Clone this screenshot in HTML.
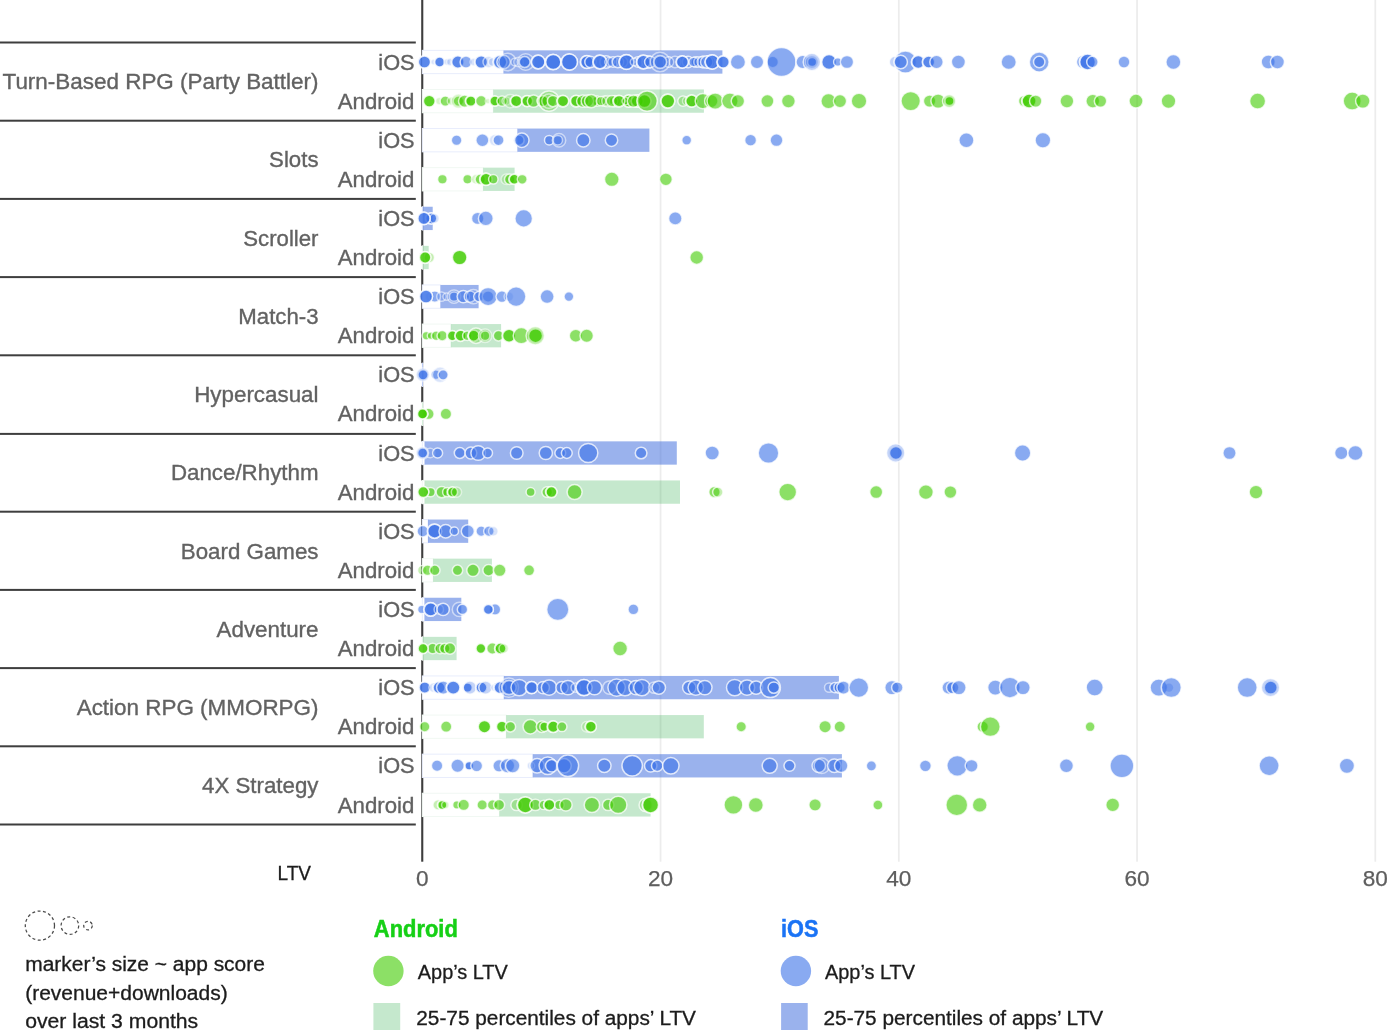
<!DOCTYPE html>
<html><head><meta charset="utf-8"><title>LTV by genre</title>
<style>html,body{margin:0;padding:0;background:#fff}body{width:1387px;height:1030px;position:relative;overflow:hidden}</style>
</head><body>
<svg width="1387" height="1030" viewBox="0 0 1387 1030" style="position:absolute;left:0;top:0;font-family:'Liberation Sans',Arial,sans-serif">
<rect width="1387" height="1030" fill="#fff"/>
<rect x="659.70" y="0" width="1.7" height="861.7" fill="#ececec"/>
<rect x="897.95" y="0" width="1.7" height="861.7" fill="#ececec"/>
<rect x="1136.20" y="0" width="1.7" height="861.7" fill="#ececec"/>
<rect x="1374.45" y="0" width="1.7" height="861.7" fill="#ececec"/>
<rect x="421.2" y="0" width="2.1" height="861.7" fill="#3e3e3e"/>
<rect x="0" y="41.50" width="415.8" height="2" fill="#3e3e3e"/>
<rect x="0" y="119.70" width="415.8" height="2" fill="#3e3e3e"/>
<rect x="0" y="197.90" width="415.8" height="2" fill="#3e3e3e"/>
<rect x="0" y="276.10" width="415.8" height="2" fill="#3e3e3e"/>
<rect x="0" y="354.30" width="415.8" height="2" fill="#3e3e3e"/>
<rect x="0" y="432.90" width="415.8" height="2" fill="#3e3e3e"/>
<rect x="0" y="510.70" width="415.8" height="2" fill="#3e3e3e"/>
<rect x="0" y="588.90" width="415.8" height="2" fill="#3e3e3e"/>
<rect x="0" y="667.10" width="415.8" height="2" fill="#3e3e3e"/>
<rect x="0" y="745.30" width="415.8" height="2" fill="#3e3e3e"/>
<rect x="0" y="823.50" width="415.8" height="2" fill="#3e3e3e"/>
<rect x="422.2" y="50.35" width="81.40" height="23.3" fill="#fff"/>
<rect x="422.3" y="50.35" width="81.30" height="23.3" fill="none" stroke="#e8edfc" stroke-width="1"/>
<rect x="503.6" y="50.35" width="218.8" height="23.3" fill="#3565dc" fill-opacity="0.5"/>
<rect x="422.2" y="89.45" width="71.10" height="23.3" fill="#fff"/>
<rect x="422.3" y="89.45" width="71.00" height="23.3" fill="none" stroke="#f1f8f3" stroke-width="1"/>
<rect x="493.3" y="89.45" width="210.6" height="23.3" fill="#30ad4c" fill-opacity="0.28"/>
<rect x="422.2" y="128.55" width="95.30" height="23.3" fill="#fff"/>
<rect x="422.3" y="128.55" width="95.20" height="23.3" fill="none" stroke="#e8edfc" stroke-width="1"/>
<rect x="517.5" y="128.55" width="131.9" height="23.3" fill="#3565dc" fill-opacity="0.5"/>
<rect x="422.2" y="167.65" width="61.00" height="23.3" fill="#fff"/>
<rect x="422.3" y="167.65" width="60.90" height="23.3" fill="none" stroke="#f1f8f3" stroke-width="1"/>
<rect x="483.2" y="167.65" width="31.4" height="23.3" fill="#30ad4c" fill-opacity="0.28"/>
<rect x="420.9" y="206.75" width="2.60" height="23.3" fill="#fff"/>
<rect x="422.3" y="206.75" width="0.50" height="23.3" fill="none" stroke="#e8edfc" stroke-width="1"/>
<rect x="422.8" y="206.75" width="9.9" height="23.3" fill="#3565dc" fill-opacity="0.5"/>
<rect x="420.9" y="245.85" width="2.60" height="23.3" fill="#fff"/>
<rect x="422.3" y="245.85" width="0.50" height="23.3" fill="none" stroke="#f1f8f3" stroke-width="1"/>
<rect x="422.8" y="245.85" width="5.9" height="23.3" fill="#30ad4c" fill-opacity="0.28"/>
<rect x="422.2" y="284.95" width="18.30" height="23.3" fill="#fff"/>
<rect x="422.3" y="284.95" width="18.20" height="23.3" fill="none" stroke="#e8edfc" stroke-width="1"/>
<rect x="440.5" y="284.95" width="38.1" height="23.3" fill="#3565dc" fill-opacity="0.5"/>
<rect x="422.2" y="324.05" width="28.70" height="23.3" fill="#fff"/>
<rect x="422.3" y="324.05" width="28.60" height="23.3" fill="none" stroke="#f1f8f3" stroke-width="1"/>
<rect x="450.9" y="324.05" width="50.2" height="23.3" fill="#30ad4c" fill-opacity="0.28"/>
<rect x="420.9" y="363.15" width="2.60" height="23.3" fill="#fff"/>
<rect x="422.3" y="363.15" width="0.50" height="23.3" fill="none" stroke="#e8edfc" stroke-width="1"/>
<rect x="422.3" y="363.15" width="0.5" height="23.3" fill="#3565dc" fill-opacity="0.5"/>
<rect x="420.9" y="402.25" width="2.60" height="23.3" fill="#fff"/>
<rect x="422.3" y="402.25" width="0.50" height="23.3" fill="none" stroke="#f1f8f3" stroke-width="1"/>
<rect x="422.3" y="402.25" width="0.5" height="23.3" fill="#30ad4c" fill-opacity="0.28"/>
<rect x="420.9" y="441.35" width="3.80" height="23.3" fill="#fff"/>
<rect x="422.3" y="441.35" width="2.40" height="23.3" fill="none" stroke="#e8edfc" stroke-width="1"/>
<rect x="424.7" y="441.35" width="252.1" height="23.3" fill="#3565dc" fill-opacity="0.5"/>
<rect x="420.9" y="480.45" width="3.80" height="23.3" fill="#fff"/>
<rect x="422.3" y="480.45" width="2.40" height="23.3" fill="none" stroke="#f1f8f3" stroke-width="1"/>
<rect x="424.7" y="480.45" width="255.3" height="23.3" fill="#30ad4c" fill-opacity="0.28"/>
<rect x="422.2" y="519.55" width="5.80" height="23.3" fill="#fff"/>
<rect x="422.3" y="519.55" width="5.70" height="23.3" fill="none" stroke="#e8edfc" stroke-width="1"/>
<rect x="428.0" y="519.55" width="40.2" height="23.3" fill="#3565dc" fill-opacity="0.5"/>
<rect x="422.2" y="558.65" width="11.00" height="23.3" fill="#fff"/>
<rect x="422.3" y="558.65" width="10.90" height="23.3" fill="none" stroke="#f1f8f3" stroke-width="1"/>
<rect x="433.2" y="558.65" width="58.7" height="23.3" fill="#30ad4c" fill-opacity="0.28"/>
<rect x="420.9" y="597.75" width="3.70" height="23.3" fill="#fff"/>
<rect x="422.3" y="597.75" width="2.30" height="23.3" fill="none" stroke="#e8edfc" stroke-width="1"/>
<rect x="424.6" y="597.75" width="36.7" height="23.3" fill="#3565dc" fill-opacity="0.5"/>
<rect x="420.9" y="636.85" width="2.60" height="23.3" fill="#fff"/>
<rect x="422.3" y="636.85" width="0.50" height="23.3" fill="none" stroke="#f1f8f3" stroke-width="1"/>
<rect x="422.8" y="636.85" width="33.8" height="23.3" fill="#30ad4c" fill-opacity="0.28"/>
<rect x="422.2" y="675.95" width="81.70" height="23.3" fill="#fff"/>
<rect x="422.3" y="675.95" width="81.60" height="23.3" fill="none" stroke="#e8edfc" stroke-width="1"/>
<rect x="503.9" y="675.95" width="335.0" height="23.3" fill="#3565dc" fill-opacity="0.5"/>
<rect x="422.2" y="715.05" width="84.00" height="23.3" fill="#fff"/>
<rect x="422.3" y="715.05" width="83.90" height="23.3" fill="none" stroke="#f1f8f3" stroke-width="1"/>
<rect x="506.2" y="715.05" width="197.6" height="23.3" fill="#30ad4c" fill-opacity="0.28"/>
<rect x="422.2" y="754.15" width="110.60" height="23.3" fill="#fff"/>
<rect x="422.3" y="754.15" width="110.50" height="23.3" fill="none" stroke="#e8edfc" stroke-width="1"/>
<rect x="532.8" y="754.15" width="309.1" height="23.3" fill="#3565dc" fill-opacity="0.5"/>
<rect x="422.2" y="793.25" width="77.20" height="23.3" fill="#fff"/>
<rect x="422.3" y="793.25" width="77.10" height="23.3" fill="none" stroke="#f1f8f3" stroke-width="1"/>
<rect x="499.4" y="793.25" width="151.2" height="23.3" fill="#30ad4c" fill-opacity="0.28"/>
<g fill="#3a72e8" fill-opacity="0.6" stroke="#fff" stroke-opacity="0.75" stroke-width="1.5">
<circle cx="606.0" cy="62.0" r="6.2" fill-opacity="0.3"/>
<circle cx="613.0" cy="62.0" r="5.2"/>
<circle cx="622.0" cy="62.0" r="5.7" fill-opacity="0.3"/>
<circle cx="638.0" cy="62.0" r="5.2" fill-opacity="0.3"/>
<circle cx="648.0" cy="62.0" r="6.2" fill-opacity="0.3"/>
<circle cx="668.5" cy="62.0" r="5.2" fill-opacity="0.3"/>
<circle cx="688.0" cy="62.0" r="5.7" fill-opacity="0.3"/>
<circle cx="696.0" cy="62.0" r="5.2"/>
<circle cx="703.0" cy="62.0" r="5.7"/>
<circle cx="709.0" cy="62.0" r="6.2"/>
<circle cx="424.2" cy="62.0" r="6.3"/>
<circle cx="424.5" cy="62.0" r="6.1"/>
<circle cx="433.6" cy="62.0" r="2.7" fill-opacity="0.2" stroke-opacity="0.55"/>
<circle cx="439.4" cy="62.0" r="5.2"/>
<circle cx="439.7" cy="62.0" r="5.0"/>
<circle cx="447.2" cy="62.0" r="3.2" fill-opacity="0.2" stroke-opacity="0.55"/>
<circle cx="450.4" cy="62.0" r="3.7" fill-opacity="0.2" stroke-opacity="0.55"/>
<circle cx="457.6" cy="62.0" r="6.4"/>
<circle cx="457.9" cy="62.0" r="6.2"/>
<circle cx="466.0" cy="62.0" r="5.9"/>
<circle cx="473.8" cy="62.0" r="3.7" fill-opacity="0.2" stroke-opacity="0.55"/>
<circle cx="481.0" cy="62.0" r="6.5"/>
<circle cx="481.3" cy="62.0" r="6.3"/>
<circle cx="488.7" cy="62.0" r="5.7" fill-opacity="0.2" stroke-opacity="0.55"/>
<circle cx="492.6" cy="62.0" r="4.2" fill-opacity="0.2" stroke-opacity="0.55"/>
<circle cx="499.8" cy="62.0" r="6.9"/>
<circle cx="500.1" cy="62.0" r="6.7"/>
<circle cx="503.6" cy="62.0" r="6.7"/>
<circle cx="507.5" cy="62.0" r="8.7" fill-opacity="0.2" stroke-opacity="0.55"/>
<circle cx="514.7" cy="62.0" r="3.7" fill-opacity="0.2" stroke-opacity="0.55"/>
<circle cx="518.6" cy="62.0" r="4.7" fill-opacity="0.2" stroke-opacity="0.55"/>
<circle cx="524.4" cy="62.0" r="5.6"/>
<circle cx="524.7" cy="62.0" r="5.4"/>
<circle cx="525.7" cy="62.0" r="8.2" fill-opacity="0.2" stroke-opacity="0.55"/>
<circle cx="538.0" cy="62.0" r="6.9"/>
<circle cx="538.3" cy="62.0" r="6.7"/>
<circle cx="553.0" cy="62.0" r="7.8"/>
<circle cx="553.3" cy="62.0" r="7.6"/>
<circle cx="569.2" cy="62.0" r="8.2"/>
<circle cx="569.5" cy="62.0" r="8.0"/>
<circle cx="586.7" cy="62.0" r="6.5"/>
<circle cx="587.0" cy="62.0" r="6.3"/>
<circle cx="590.5" cy="62.0" r="5.7"/>
<circle cx="599.7" cy="62.0" r="6.9"/>
<circle cx="600.0" cy="62.0" r="6.7"/>
<circle cx="609.5" cy="62.0" r="4.7" fill-opacity="0.2" stroke-opacity="0.55"/>
<circle cx="617.9" cy="62.0" r="5.7"/>
<circle cx="626.3" cy="62.0" r="7.5"/>
<circle cx="626.6" cy="62.0" r="7.3"/>
<circle cx="634.0" cy="62.0" r="3.7" fill-opacity="0.2" stroke-opacity="0.55"/>
<circle cx="643.2" cy="62.0" r="6.9"/>
<circle cx="643.5" cy="62.0" r="6.7"/>
<circle cx="650.3" cy="62.0" r="5.7"/>
<circle cx="660.0" cy="62.0" r="6.5"/>
<circle cx="660.3" cy="62.0" r="6.3"/>
<circle cx="660.0" cy="62.0" r="9.7" fill-opacity="0.2" stroke-opacity="0.55"/>
<circle cx="675.0" cy="62.0" r="5.7" fill-opacity="0.2" stroke-opacity="0.55"/>
<circle cx="682.1" cy="62.0" r="6.2"/>
<circle cx="682.4" cy="62.0" r="6.0"/>
<circle cx="693.8" cy="62.0" r="4.7"/>
<circle cx="699.0" cy="62.0" r="5.2" fill-opacity="0.2" stroke-opacity="0.55"/>
<circle cx="702.9" cy="62.0" r="5.7" fill-opacity="0.2" stroke-opacity="0.55"/>
<circle cx="706.8" cy="62.0" r="6.2"/>
<circle cx="712.0" cy="62.0" r="7.2"/>
<circle cx="712.3" cy="62.0" r="7.0"/>
<circle cx="723.0" cy="62.0" r="6.2"/>
<circle cx="723.3" cy="62.0" r="6.0"/>
<circle cx="737.9" cy="62.0" r="7.6"/>
<circle cx="757.0" cy="62.0" r="6.7"/>
<circle cx="772.7" cy="62.0" r="5.7"/>
<circle cx="781.5" cy="62.0" r="14.5"/>
<circle cx="802.7" cy="62.0" r="6.7"/>
<circle cx="811.9" cy="62.0" r="4.7"/>
<circle cx="812.2" cy="62.0" r="4.5"/>
<circle cx="811.9" cy="62.0" r="6.7" fill-opacity="0.3"/>
<circle cx="811.9" cy="62.0" r="8.7" fill-opacity="0.3"/>
<circle cx="828.8" cy="62.0" r="7.6"/>
<circle cx="829.1" cy="62.0" r="7.4"/>
<circle cx="837.8" cy="62.0" r="4.2"/>
<circle cx="847.0" cy="62.0" r="6.6"/>
<circle cx="895.0" cy="62.0" r="5.7" fill-opacity="0.3"/>
<circle cx="905.4" cy="62.0" r="11.1"/>
<circle cx="900.7" cy="62.0" r="6.7"/>
<circle cx="918.0" cy="62.0" r="6.7"/>
<circle cx="918.3" cy="62.0" r="6.5"/>
<circle cx="928.4" cy="62.0" r="6.2"/>
<circle cx="928.7" cy="62.0" r="6.0"/>
<circle cx="936.5" cy="62.0" r="6.7"/>
<circle cx="958.4" cy="62.0" r="7.0"/>
<circle cx="1008.7" cy="62.0" r="7.6"/>
<circle cx="1039.2" cy="62.0" r="9.9"/>
<circle cx="1039.2" cy="62.0" r="5.7"/>
<circle cx="1083.2" cy="62.0" r="6.7"/>
<circle cx="1087.3" cy="62.0" r="8.1"/>
<circle cx="1087.6" cy="62.0" r="7.9"/>
<circle cx="1092.4" cy="62.0" r="5.7"/>
<circle cx="1124.0" cy="62.0" r="5.9"/>
<circle cx="1173.4" cy="62.0" r="7.5"/>
<circle cx="1268.2" cy="62.0" r="7.0"/>
<circle cx="1277.4" cy="62.0" r="7.0"/>
<circle cx="456.6" cy="140.2" r="5.3"/>
<circle cx="482.4" cy="140.2" r="6.5"/>
<circle cx="495.0" cy="140.2" r="5.7" fill-opacity="0.2" stroke-opacity="0.55"/>
<circle cx="498.5" cy="140.2" r="5.5"/>
<circle cx="518.9" cy="140.2" r="5.2"/>
<circle cx="521.8" cy="140.2" r="7.2"/>
<circle cx="549.2" cy="140.2" r="4.7"/>
<circle cx="557.8" cy="140.2" r="4.7"/>
<circle cx="559.0" cy="140.2" r="6.7" fill-opacity="0.2" stroke-opacity="0.55"/>
<circle cx="583.3" cy="140.2" r="6.7"/>
<circle cx="611.5" cy="140.2" r="6.2"/>
<circle cx="686.7" cy="140.2" r="4.9"/>
<circle cx="750.6" cy="140.2" r="5.9"/>
<circle cx="776.5" cy="140.2" r="6.4"/>
<circle cx="966.4" cy="140.2" r="7.5"/>
<circle cx="1042.9" cy="140.2" r="7.8"/>
<circle cx="431.0" cy="218.4" r="5.7"/>
<circle cx="431.3" cy="218.4" r="5.5"/>
<circle cx="434.4" cy="218.4" r="4.7" fill-opacity="0.2" stroke-opacity="0.55"/>
<circle cx="423.7" cy="218.4" r="6.3"/>
<circle cx="424.0" cy="218.4" r="6.1"/>
<circle cx="477.7" cy="218.4" r="6.2"/>
<circle cx="485.8" cy="218.4" r="7.4"/>
<circle cx="523.7" cy="218.4" r="8.8"/>
<circle cx="675.3" cy="218.4" r="6.7"/>
<circle cx="430.1" cy="296.6" r="4.7" fill-opacity="0.2" stroke-opacity="0.55"/>
<circle cx="434.8" cy="296.6" r="5.7"/>
<circle cx="425.8" cy="296.6" r="6.7"/>
<circle cx="426.1" cy="296.6" r="6.5"/>
<circle cx="441.4" cy="296.6" r="4.7" fill-opacity="0.2" stroke-opacity="0.55"/>
<circle cx="446.6" cy="296.6" r="3.7" fill-opacity="0.2" stroke-opacity="0.55"/>
<circle cx="454.0" cy="296.6" r="4.7"/>
<circle cx="454.0" cy="296.6" r="6.7" fill-opacity="0.2" stroke-opacity="0.55"/>
<circle cx="463.3" cy="296.6" r="6.2"/>
<circle cx="469.9" cy="296.6" r="5.7"/>
<circle cx="473.4" cy="296.6" r="7.2" fill-opacity="0.2" stroke-opacity="0.55"/>
<circle cx="478.9" cy="296.6" r="5.2"/>
<circle cx="488.1" cy="296.6" r="5.7"/>
<circle cx="488.1" cy="296.6" r="9.2"/>
<circle cx="501.9" cy="296.6" r="5.9"/>
<circle cx="508.8" cy="296.6" r="4.7" fill-opacity="0.2" stroke-opacity="0.55"/>
<circle cx="516.1" cy="296.6" r="9.8"/>
<circle cx="547.1" cy="296.6" r="7.0"/>
<circle cx="568.9" cy="296.6" r="4.9"/>
<circle cx="435.7" cy="374.8" r="4.7"/>
<circle cx="440.1" cy="374.8" r="7.7" fill-opacity="0.2" stroke-opacity="0.55"/>
<circle cx="443.1" cy="374.8" r="5.1"/>
<circle cx="422.8" cy="374.8" r="5.3"/>
<circle cx="423.1" cy="374.8" r="5.1"/>
<circle cx="422.8" cy="374.8" r="6.7" fill-opacity="0.2" stroke-opacity="0.55"/>
<circle cx="430.1" cy="453.0" r="4.7" fill-opacity="0.2" stroke-opacity="0.55"/>
<circle cx="437.6" cy="453.0" r="5.0"/>
<circle cx="459.8" cy="453.0" r="5.5"/>
<circle cx="470.9" cy="453.0" r="5.9"/>
<circle cx="478.2" cy="453.0" r="7.3"/>
<circle cx="487.6" cy="453.0" r="4.9"/>
<circle cx="516.7" cy="453.0" r="6.3"/>
<circle cx="545.8" cy="453.0" r="6.6"/>
<circle cx="560.3" cy="453.0" r="5.4"/>
<circle cx="566.8" cy="453.0" r="5.4"/>
<circle cx="588.2" cy="453.0" r="9.6"/>
<circle cx="641.1" cy="453.0" r="5.8"/>
<circle cx="712.2" cy="453.0" r="7.1"/>
<circle cx="768.5" cy="453.0" r="10.3"/>
<circle cx="895.7" cy="453.0" r="6.7"/>
<circle cx="896.0" cy="453.0" r="6.5"/>
<circle cx="895.7" cy="453.0" r="9.2" fill-opacity="0.3"/>
<circle cx="1022.6" cy="453.0" r="8.2"/>
<circle cx="1229.5" cy="453.0" r="6.6"/>
<circle cx="1341.3" cy="453.0" r="6.7"/>
<circle cx="1355.4" cy="453.0" r="7.6"/>
<circle cx="422.4" cy="453.0" r="5.2"/>
<circle cx="422.7" cy="453.0" r="5.0"/>
<circle cx="422.4" cy="453.0" r="6.2" fill-opacity="0.2" stroke-opacity="0.55"/>
<circle cx="422.8" cy="531.2" r="5.7"/>
<circle cx="434.4" cy="531.2" r="7.2"/>
<circle cx="434.7" cy="531.2" r="7.0"/>
<circle cx="445.7" cy="531.2" r="6.7"/>
<circle cx="454.3" cy="531.2" r="4.2"/>
<circle cx="467.8" cy="531.2" r="6.5"/>
<circle cx="481.2" cy="531.2" r="5.2"/>
<circle cx="488.9" cy="531.2" r="5.2"/>
<circle cx="493.3" cy="531.2" r="4.7" fill-opacity="0.2" stroke-opacity="0.55"/>
<circle cx="421.8" cy="609.4" r="4.2"/>
<circle cx="430.5" cy="609.4" r="6.9"/>
<circle cx="430.8" cy="609.4" r="6.7"/>
<circle cx="438.8" cy="609.4" r="4.7" fill-opacity="0.2" stroke-opacity="0.55"/>
<circle cx="443.1" cy="609.4" r="6.2"/>
<circle cx="459.5" cy="609.4" r="7.2" fill-opacity="0.2" stroke-opacity="0.55"/>
<circle cx="462.5" cy="609.4" r="5.2"/>
<circle cx="495.0" cy="609.4" r="5.7"/>
<circle cx="488.1" cy="609.4" r="5.2"/>
<circle cx="488.4" cy="609.4" r="5.0"/>
<circle cx="557.8" cy="609.4" r="11.1"/>
<circle cx="633.4" cy="609.4" r="5.4"/>
<circle cx="424.5" cy="687.6" r="5.9"/>
<circle cx="424.8" cy="687.6" r="5.7"/>
<circle cx="433.6" cy="687.6" r="4.7" fill-opacity="0.2" stroke-opacity="0.55"/>
<circle cx="438.8" cy="687.6" r="6.2"/>
<circle cx="439.1" cy="687.6" r="6.0"/>
<circle cx="443.3" cy="687.6" r="6.7"/>
<circle cx="453.0" cy="687.6" r="6.9"/>
<circle cx="453.3" cy="687.6" r="6.7"/>
<circle cx="467.3" cy="687.6" r="4.9"/>
<circle cx="467.6" cy="687.6" r="4.7"/>
<circle cx="469.9" cy="687.6" r="6.7" fill-opacity="0.3"/>
<circle cx="481.2" cy="687.6" r="5.7"/>
<circle cx="481.5" cy="687.6" r="5.5"/>
<circle cx="485.5" cy="687.6" r="6.7" fill-opacity="0.3"/>
<circle cx="494.6" cy="687.6" r="3.7" fill-opacity="0.2" stroke-opacity="0.55"/>
<circle cx="499.8" cy="687.6" r="6.2"/>
<circle cx="500.1" cy="687.6" r="6.0"/>
<circle cx="508.8" cy="687.6" r="7.2"/>
<circle cx="509.1" cy="687.6" r="7.0"/>
<circle cx="508.8" cy="687.6" r="9.7" fill-opacity="0.2" stroke-opacity="0.55"/>
<circle cx="519.2" cy="687.6" r="8.2"/>
<circle cx="531.5" cy="687.6" r="6.2"/>
<circle cx="531.8" cy="687.6" r="6.0"/>
<circle cx="543.2" cy="687.6" r="6.2"/>
<circle cx="549.1" cy="687.6" r="7.7"/>
<circle cx="562.0" cy="687.6" r="6.2"/>
<circle cx="567.9" cy="687.6" r="7.2"/>
<circle cx="575.7" cy="687.6" r="4.7" fill-opacity="0.2" stroke-opacity="0.55"/>
<circle cx="583.8" cy="687.6" r="8.2"/>
<circle cx="584.1" cy="687.6" r="8.0"/>
<circle cx="594.5" cy="687.6" r="7.2"/>
<circle cx="609.5" cy="687.6" r="6.7" fill-opacity="0.2" stroke-opacity="0.55"/>
<circle cx="616.6" cy="687.6" r="8.7"/>
<circle cx="625.0" cy="687.6" r="8.2"/>
<circle cx="636.1" cy="687.6" r="7.2"/>
<circle cx="641.9" cy="687.6" r="8.2"/>
<circle cx="654.2" cy="687.6" r="5.7" fill-opacity="0.2" stroke-opacity="0.55"/>
<circle cx="658.8" cy="687.6" r="6.7"/>
<circle cx="689.3" cy="687.6" r="6.7"/>
<circle cx="695.8" cy="687.6" r="7.7"/>
<circle cx="704.8" cy="687.6" r="7.2"/>
<circle cx="734.7" cy="687.6" r="8.2"/>
<circle cx="747.0" cy="687.6" r="7.7"/>
<circle cx="756.1" cy="687.6" r="6.7"/>
<circle cx="770.4" cy="687.6" r="10.0"/>
<circle cx="773.8" cy="687.6" r="5.7"/>
<circle cx="829.2" cy="687.6" r="4.7" fill-opacity="0.2" stroke-opacity="0.55"/>
<circle cx="835.0" cy="687.6" r="5.2"/>
<circle cx="839.6" cy="687.6" r="5.7"/>
<circle cx="843.5" cy="687.6" r="6.7"/>
<circle cx="858.8" cy="687.6" r="9.9"/>
<circle cx="892.0" cy="687.6" r="7.2"/>
<circle cx="897.3" cy="687.6" r="5.7"/>
<circle cx="948.7" cy="687.6" r="6.7"/>
<circle cx="952.7" cy="687.6" r="6.2"/>
<circle cx="958.9" cy="687.6" r="7.2"/>
<circle cx="995.3" cy="687.6" r="7.6"/>
<circle cx="1009.9" cy="687.6" r="10.3"/>
<circle cx="1023.0" cy="687.6" r="7.2"/>
<circle cx="1094.7" cy="687.6" r="8.5"/>
<circle cx="1158.8" cy="687.6" r="8.7"/>
<circle cx="1171.3" cy="687.6" r="10.0"/>
<circle cx="1169.0" cy="687.6" r="4.2" fill-opacity="0.3" stroke="none"/>
<circle cx="1247.2" cy="687.6" r="10.0"/>
<circle cx="1270.5" cy="687.6" r="6.7"/>
<circle cx="1270.8" cy="687.6" r="6.5"/>
<circle cx="1270.5" cy="687.6" r="9.2" fill-opacity="0.3"/>
<circle cx="437.1" cy="765.8" r="5.7"/>
<circle cx="457.6" cy="765.8" r="6.7"/>
<circle cx="469.0" cy="765.8" r="4.5"/>
<circle cx="469.3" cy="765.8" r="4.3"/>
<circle cx="476.7" cy="765.8" r="5.9"/>
<circle cx="499.1" cy="765.8" r="6.2"/>
<circle cx="507.5" cy="765.8" r="7.2"/>
<circle cx="512.7" cy="765.8" r="7.2"/>
<circle cx="530.9" cy="765.8" r="3.7" fill-opacity="0.2" stroke-opacity="0.55"/>
<circle cx="537.1" cy="765.8" r="7.2"/>
<circle cx="547.8" cy="765.8" r="8.7"/>
<circle cx="551.7" cy="765.8" r="6.2"/>
<circle cx="564.0" cy="765.8" r="7.2"/>
<circle cx="567.9" cy="765.8" r="10.7"/>
<circle cx="604.3" cy="765.8" r="6.7"/>
<circle cx="632.2" cy="765.8" r="10.2"/>
<circle cx="650.7" cy="765.8" r="6.2"/>
<circle cx="657.2" cy="765.8" r="5.7"/>
<circle cx="670.8" cy="765.8" r="8.2"/>
<circle cx="769.7" cy="765.8" r="7.5"/>
<circle cx="789.5" cy="765.8" r="5.5"/>
<circle cx="818.8" cy="765.8" r="6.7"/>
<circle cx="821.8" cy="765.8" r="7.7" fill-opacity="0.2" stroke-opacity="0.55"/>
<circle cx="834.3" cy="765.8" r="6.7"/>
<circle cx="841.2" cy="765.8" r="6.7"/>
<circle cx="871.4" cy="765.8" r="5.1"/>
<circle cx="925.4" cy="765.8" r="5.9"/>
<circle cx="957.3" cy="765.8" r="10.4"/>
<circle cx="971.6" cy="765.8" r="6.4"/>
<circle cx="1066.4" cy="765.8" r="7.0"/>
<circle cx="1121.9" cy="765.8" r="11.9"/>
<circle cx="1269.1" cy="765.8" r="10.0"/>
<circle cx="1346.9" cy="765.8" r="7.6"/>
</g>
<g fill="#3fcb00" fill-opacity="0.6" stroke="#fff" stroke-opacity="0.75" stroke-width="1.5">
<circle cx="597.0" cy="101.1" r="5.2"/>
<circle cx="604.5" cy="101.1" r="5.2" fill-opacity="0.3"/>
<circle cx="615.0" cy="101.1" r="5.7"/>
<circle cx="628.5" cy="101.1" r="6.2"/>
<circle cx="628.8" cy="101.1" r="6.0"/>
<circle cx="637.0" cy="101.1" r="6.2"/>
<circle cx="637.3" cy="101.1" r="6.0"/>
<circle cx="683.0" cy="101.1" r="5.2" fill-opacity="0.3"/>
<circle cx="429.0" cy="101.1" r="6.1"/>
<circle cx="429.3" cy="101.1" r="5.9"/>
<circle cx="439.4" cy="101.1" r="3.7" fill-opacity="0.2" stroke-opacity="0.55"/>
<circle cx="445.3" cy="101.1" r="5.2"/>
<circle cx="451.5" cy="101.1" r="4.2" fill-opacity="0.2" stroke-opacity="0.55"/>
<circle cx="458.5" cy="101.1" r="5.2"/>
<circle cx="458.5" cy="101.1" r="7.2" fill-opacity="0.2" stroke-opacity="0.55"/>
<circle cx="464.7" cy="101.1" r="6.2"/>
<circle cx="470.6" cy="101.1" r="5.4"/>
<circle cx="470.9" cy="101.1" r="5.2"/>
<circle cx="481.2" cy="101.1" r="5.6"/>
<circle cx="488.0" cy="101.1" r="2.7" fill-opacity="0.2" stroke-opacity="0.55"/>
<circle cx="494.6" cy="101.1" r="5.2"/>
<circle cx="494.9" cy="101.1" r="5.0"/>
<circle cx="502.1" cy="101.1" r="5.2"/>
<circle cx="506.2" cy="101.1" r="4.2" fill-opacity="0.2" stroke-opacity="0.55"/>
<circle cx="510.4" cy="101.1" r="6.7" fill-opacity="0.2" stroke-opacity="0.55"/>
<circle cx="516.0" cy="101.1" r="5.9"/>
<circle cx="516.3" cy="101.1" r="5.7"/>
<circle cx="527.0" cy="101.1" r="5.6"/>
<circle cx="527.3" cy="101.1" r="5.4"/>
<circle cx="533.5" cy="101.1" r="6.2"/>
<circle cx="542.6" cy="101.1" r="5.6"/>
<circle cx="542.9" cy="101.1" r="5.4"/>
<circle cx="549.0" cy="101.1" r="10.2" fill-opacity="0.3"/>
<circle cx="549.0" cy="101.1" r="7.2" fill-opacity="0.2" stroke-opacity="0.55"/>
<circle cx="553.0" cy="101.1" r="5.7"/>
<circle cx="562.7" cy="101.1" r="5.9"/>
<circle cx="563.0" cy="101.1" r="5.7"/>
<circle cx="576.0" cy="101.1" r="5.9"/>
<circle cx="576.3" cy="101.1" r="5.7"/>
<circle cx="582.8" cy="101.1" r="6.2"/>
<circle cx="587.3" cy="101.1" r="6.2"/>
<circle cx="591.2" cy="101.1" r="6.7"/>
<circle cx="601.0" cy="101.1" r="4.7"/>
<circle cx="607.5" cy="101.1" r="5.7" fill-opacity="0.2" stroke-opacity="0.55"/>
<circle cx="612.0" cy="101.1" r="5.7"/>
<circle cx="618.8" cy="101.1" r="5.9"/>
<circle cx="619.1" cy="101.1" r="5.7"/>
<circle cx="625.7" cy="101.1" r="3.7" fill-opacity="0.2" stroke-opacity="0.55"/>
<circle cx="633.5" cy="101.1" r="6.2"/>
<circle cx="644.2" cy="101.1" r="6.7"/>
<circle cx="644.5" cy="101.1" r="6.5"/>
<circle cx="647.1" cy="101.1" r="10.2"/>
<circle cx="667.6" cy="101.1" r="7.1"/>
<circle cx="667.9" cy="101.1" r="6.9"/>
<circle cx="686.7" cy="101.1" r="4.2" fill-opacity="0.2" stroke-opacity="0.55"/>
<circle cx="691.5" cy="101.1" r="6.2"/>
<circle cx="691.8" cy="101.1" r="6.0"/>
<circle cx="702.9" cy="101.1" r="7.7"/>
<circle cx="711.3" cy="101.1" r="6.7"/>
<circle cx="715.2" cy="101.1" r="8.2"/>
<circle cx="729.9" cy="101.1" r="8.2"/>
<circle cx="737.9" cy="101.1" r="6.7"/>
<circle cx="767.4" cy="101.1" r="6.5"/>
<circle cx="788.4" cy="101.1" r="6.9"/>
<circle cx="828.5" cy="101.1" r="7.6"/>
<circle cx="840.0" cy="101.1" r="6.6"/>
<circle cx="859.0" cy="101.1" r="7.8"/>
<circle cx="910.7" cy="101.1" r="9.7"/>
<circle cx="929.6" cy="101.1" r="6.2"/>
<circle cx="938.1" cy="101.1" r="7.2"/>
<circle cx="949.2" cy="101.1" r="4.7"/>
<circle cx="949.5" cy="101.1" r="4.5"/>
<circle cx="949.2" cy="101.1" r="6.7" fill-opacity="0.3"/>
<circle cx="1024.2" cy="101.1" r="5.7"/>
<circle cx="1028.8" cy="101.1" r="7.2"/>
<circle cx="1029.1" cy="101.1" r="7.0"/>
<circle cx="1035.7" cy="101.1" r="6.2"/>
<circle cx="1066.9" cy="101.1" r="6.9"/>
<circle cx="1092.8" cy="101.1" r="6.9"/>
<circle cx="1100.5" cy="101.1" r="6.2"/>
<circle cx="1136.0" cy="101.1" r="7.0"/>
<circle cx="1168.5" cy="101.1" r="7.3"/>
<circle cx="1257.6" cy="101.1" r="8.0"/>
<circle cx="1352.2" cy="101.1" r="9.0"/>
<circle cx="1362.8" cy="101.1" r="7.2"/>
<circle cx="442.4" cy="179.3" r="4.8"/>
<circle cx="467.5" cy="179.3" r="4.7"/>
<circle cx="476.0" cy="179.3" r="4.7" fill-opacity="0.2" stroke-opacity="0.55"/>
<circle cx="480.3" cy="179.3" r="5.2"/>
<circle cx="485.8" cy="179.3" r="6.2"/>
<circle cx="486.1" cy="179.3" r="6.0"/>
<circle cx="493.3" cy="179.3" r="4.7"/>
<circle cx="506.3" cy="179.3" r="5.2" fill-opacity="0.2" stroke-opacity="0.55"/>
<circle cx="509.7" cy="179.3" r="5.2"/>
<circle cx="514.0" cy="179.3" r="5.2"/>
<circle cx="514.3" cy="179.3" r="5.0"/>
<circle cx="522.2" cy="179.3" r="4.9"/>
<circle cx="611.8" cy="179.3" r="7.3"/>
<circle cx="665.9" cy="179.3" r="6.4"/>
<circle cx="429.2" cy="257.5" r="5.3" fill-opacity="0.3"/>
<circle cx="424.9" cy="257.5" r="5.9"/>
<circle cx="425.2" cy="257.5" r="5.7"/>
<circle cx="459.4" cy="257.5" r="7.5"/>
<circle cx="459.7" cy="257.5" r="7.3"/>
<circle cx="696.7" cy="257.5" r="6.9"/>
<circle cx="426.3" cy="335.7" r="4.2"/>
<circle cx="431.0" cy="335.7" r="3.7"/>
<circle cx="436.2" cy="335.7" r="4.7"/>
<circle cx="442.2" cy="335.7" r="5.2"/>
<circle cx="452.1" cy="335.7" r="5.2"/>
<circle cx="452.4" cy="335.7" r="5.0"/>
<circle cx="460.4" cy="335.7" r="5.7"/>
<circle cx="460.7" cy="335.7" r="5.5"/>
<circle cx="467.3" cy="335.7" r="4.7"/>
<circle cx="473.4" cy="335.7" r="5.7"/>
<circle cx="473.7" cy="335.7" r="5.5"/>
<circle cx="476.0" cy="335.7" r="7.7" fill-opacity="0.3"/>
<circle cx="485.1" cy="335.7" r="4.7"/>
<circle cx="485.1" cy="335.7" r="6.7" fill-opacity="0.2" stroke-opacity="0.55"/>
<circle cx="498.5" cy="335.7" r="5.2"/>
<circle cx="508.8" cy="335.7" r="6.7"/>
<circle cx="509.1" cy="335.7" r="6.5"/>
<circle cx="521.3" cy="335.7" r="8.1"/>
<circle cx="535.3" cy="335.7" r="7.2"/>
<circle cx="535.6" cy="335.7" r="7.0"/>
<circle cx="535.3" cy="335.7" r="9.2" fill-opacity="0.3"/>
<circle cx="575.8" cy="335.7" r="6.5"/>
<circle cx="586.7" cy="335.7" r="6.7"/>
<circle cx="428.4" cy="413.9" r="5.7"/>
<circle cx="422.5" cy="413.9" r="5.3"/>
<circle cx="422.8" cy="413.9" r="5.1"/>
<circle cx="422.5" cy="413.9" r="5.1"/>
<circle cx="445.9" cy="413.9" r="5.7"/>
<circle cx="430.5" cy="492.1" r="4.7"/>
<circle cx="441.8" cy="492.1" r="5.7"/>
<circle cx="447.3" cy="492.1" r="4.7"/>
<circle cx="452.3" cy="492.1" r="5.2"/>
<circle cx="452.6" cy="492.1" r="5.0"/>
<circle cx="456.4" cy="492.1" r="5.2" fill-opacity="0.2" stroke-opacity="0.55"/>
<circle cx="530.6" cy="492.1" r="4.5"/>
<circle cx="547.2" cy="492.1" r="5.3"/>
<circle cx="551.2" cy="492.1" r="5.7"/>
<circle cx="551.5" cy="492.1" r="5.5"/>
<circle cx="574.6" cy="492.1" r="7.5"/>
<circle cx="714.5" cy="492.1" r="5.7"/>
<circle cx="717.8" cy="492.1" r="5.2" fill-opacity="0.3"/>
<circle cx="787.7" cy="492.1" r="8.9"/>
<circle cx="876.2" cy="492.1" r="6.5"/>
<circle cx="925.9" cy="492.1" r="7.4"/>
<circle cx="950.4" cy="492.1" r="6.4"/>
<circle cx="1256.0" cy="492.1" r="6.9"/>
<circle cx="423.0" cy="492.1" r="5.7"/>
<circle cx="423.3" cy="492.1" r="5.5"/>
<circle cx="422.3" cy="570.3" r="4.7" fill-opacity="0.3"/>
<circle cx="427.5" cy="570.3" r="5.2"/>
<circle cx="434.8" cy="570.3" r="5.2"/>
<circle cx="457.5" cy="570.3" r="5.2"/>
<circle cx="473.0" cy="570.3" r="6.2"/>
<circle cx="488.6" cy="570.3" r="5.7"/>
<circle cx="499.7" cy="570.3" r="6.3"/>
<circle cx="529.1" cy="570.3" r="5.5"/>
<circle cx="432.7" cy="648.5" r="5.2"/>
<circle cx="440.1" cy="648.5" r="5.2"/>
<circle cx="444.8" cy="648.5" r="5.2"/>
<circle cx="450.0" cy="648.5" r="5.7"/>
<circle cx="480.6" cy="648.5" r="5.1"/>
<circle cx="480.9" cy="648.5" r="4.9"/>
<circle cx="492.4" cy="648.5" r="5.7"/>
<circle cx="500.2" cy="648.5" r="5.7"/>
<circle cx="500.5" cy="648.5" r="5.5"/>
<circle cx="503.7" cy="648.5" r="4.7" fill-opacity="0.2" stroke-opacity="0.55"/>
<circle cx="620.1" cy="648.5" r="7.4"/>
<circle cx="422.8" cy="648.5" r="5.2"/>
<circle cx="423.1" cy="648.5" r="5.0"/>
<circle cx="424.7" cy="726.7" r="5.2"/>
<circle cx="446.2" cy="726.7" r="5.6"/>
<circle cx="484.2" cy="726.7" r="6.4"/>
<circle cx="484.5" cy="726.7" r="6.2"/>
<circle cx="501.7" cy="726.7" r="5.7"/>
<circle cx="502.0" cy="726.7" r="5.5"/>
<circle cx="510.4" cy="726.7" r="5.2"/>
<circle cx="530.3" cy="726.7" r="7.2"/>
<circle cx="541.9" cy="726.7" r="5.7"/>
<circle cx="544.5" cy="726.7" r="4.7"/>
<circle cx="553.0" cy="726.7" r="5.9"/>
<circle cx="553.3" cy="726.7" r="5.7"/>
<circle cx="562.0" cy="726.7" r="4.9"/>
<circle cx="586.7" cy="726.7" r="5.2" fill-opacity="0.2" stroke-opacity="0.55"/>
<circle cx="590.6" cy="726.7" r="5.7"/>
<circle cx="590.9" cy="726.7" r="5.5"/>
<circle cx="741.2" cy="726.7" r="5.2"/>
<circle cx="825.1" cy="726.7" r="6.2"/>
<circle cx="839.8" cy="726.7" r="5.7"/>
<circle cx="982.7" cy="726.7" r="5.7"/>
<circle cx="990.3" cy="726.7" r="9.9"/>
<circle cx="1090.1" cy="726.7" r="4.9"/>
<circle cx="438.1" cy="804.9" r="5.2" fill-opacity="0.3"/>
<circle cx="442.0" cy="804.9" r="4.7"/>
<circle cx="442.3" cy="804.9" r="4.5"/>
<circle cx="445.3" cy="804.9" r="3.7" fill-opacity="0.2" stroke-opacity="0.55"/>
<circle cx="456.9" cy="804.9" r="4.2"/>
<circle cx="463.7" cy="804.9" r="5.7"/>
<circle cx="482.2" cy="804.9" r="5.2"/>
<circle cx="492.6" cy="804.9" r="5.2"/>
<circle cx="499.1" cy="804.9" r="5.5"/>
<circle cx="516.6" cy="804.9" r="5.7" fill-opacity="0.3"/>
<circle cx="525.1" cy="804.9" r="8.2"/>
<circle cx="525.4" cy="804.9" r="8.0"/>
<circle cx="535.4" cy="804.9" r="5.7"/>
<circle cx="543.9" cy="804.9" r="4.7"/>
<circle cx="549.1" cy="804.9" r="5.7"/>
<circle cx="549.4" cy="804.9" r="5.5"/>
<circle cx="559.4" cy="804.9" r="4.7"/>
<circle cx="565.9" cy="804.9" r="6.2"/>
<circle cx="591.9" cy="804.9" r="7.7"/>
<circle cx="608.2" cy="804.9" r="5.7"/>
<circle cx="618.2" cy="804.9" r="8.7"/>
<circle cx="645.8" cy="804.9" r="6.7" fill-opacity="0.3"/>
<circle cx="650.3" cy="804.9" r="8.2"/>
<circle cx="650.6" cy="804.9" r="8.0"/>
<circle cx="733.4" cy="804.9" r="9.4"/>
<circle cx="755.8" cy="804.9" r="7.5"/>
<circle cx="815.1" cy="804.9" r="6.2"/>
<circle cx="877.9" cy="804.9" r="5.0"/>
<circle cx="956.8" cy="804.9" r="10.9"/>
<circle cx="979.7" cy="804.9" r="7.4"/>
<circle cx="1112.7" cy="804.9" r="6.9"/>
</g>
<g fill="#626262" font-size="22.1" stroke="#626262" stroke-width="0.35">
<text x="2.5" y="89.3" textLength="316.0" lengthAdjust="spacingAndGlyphs">Turn-Based RPG (Party Battler)</text>
<text x="378.3" y="69.5" textLength="36.3" lengthAdjust="spacingAndGlyphs">iOS</text>
<text x="337.8" y="108.6" textLength="76.6" lengthAdjust="spacingAndGlyphs">Android</text>
<text x="269.1" y="167.4" textLength="49.4" lengthAdjust="spacingAndGlyphs">Slots</text>
<text x="378.3" y="147.8" textLength="36.3" lengthAdjust="spacingAndGlyphs">iOS</text>
<text x="337.8" y="186.9" textLength="76.6" lengthAdjust="spacingAndGlyphs">Android</text>
<text x="243.3" y="245.7" textLength="75.2" lengthAdjust="spacingAndGlyphs">Scroller</text>
<text x="378.3" y="226.0" textLength="36.3" lengthAdjust="spacingAndGlyphs">iOS</text>
<text x="337.8" y="265.1" textLength="76.6" lengthAdjust="spacingAndGlyphs">Android</text>
<text x="238.3" y="323.9" textLength="80.2" lengthAdjust="spacingAndGlyphs">Match-3</text>
<text x="378.3" y="304.2" textLength="36.3" lengthAdjust="spacingAndGlyphs">iOS</text>
<text x="337.8" y="343.2" textLength="76.6" lengthAdjust="spacingAndGlyphs">Android</text>
<text x="194.2" y="402.1" textLength="124.3" lengthAdjust="spacingAndGlyphs">Hypercasual</text>
<text x="378.3" y="382.4" textLength="36.3" lengthAdjust="spacingAndGlyphs">iOS</text>
<text x="337.8" y="421.4" textLength="76.6" lengthAdjust="spacingAndGlyphs">Android</text>
<text x="170.9" y="480.2" textLength="147.6" lengthAdjust="spacingAndGlyphs">Dance/Rhythm</text>
<text x="378.3" y="460.6" textLength="36.3" lengthAdjust="spacingAndGlyphs">iOS</text>
<text x="337.8" y="499.6" textLength="76.6" lengthAdjust="spacingAndGlyphs">Android</text>
<text x="180.8" y="558.5" textLength="137.7" lengthAdjust="spacingAndGlyphs">Board Games</text>
<text x="378.3" y="538.8" textLength="36.3" lengthAdjust="spacingAndGlyphs">iOS</text>
<text x="337.8" y="577.9" textLength="76.6" lengthAdjust="spacingAndGlyphs">Android</text>
<text x="216.6" y="636.7" textLength="101.9" lengthAdjust="spacingAndGlyphs">Adventure</text>
<text x="378.3" y="616.9" textLength="36.3" lengthAdjust="spacingAndGlyphs">iOS</text>
<text x="337.8" y="656.0" textLength="76.6" lengthAdjust="spacingAndGlyphs">Android</text>
<text x="76.7" y="714.9" textLength="241.8" lengthAdjust="spacingAndGlyphs">Action RPG (MMORPG)</text>
<text x="378.3" y="695.1" textLength="36.3" lengthAdjust="spacingAndGlyphs">iOS</text>
<text x="337.8" y="734.2" textLength="76.6" lengthAdjust="spacingAndGlyphs">Android</text>
<text x="202.0" y="793.1" textLength="116.5" lengthAdjust="spacingAndGlyphs">4X Strategy</text>
<text x="378.3" y="773.4" textLength="36.3" lengthAdjust="spacingAndGlyphs">iOS</text>
<text x="337.8" y="812.5" textLength="76.6" lengthAdjust="spacingAndGlyphs">Android</text>
</g>
<g fill="#5e5e5e" font-size="22.6" text-anchor="middle" stroke="#5e5e5e" stroke-width="0.25">
<text x="422.3" y="886.3">0</text>
<text x="660.5" y="886.3">20</text>
<text x="898.8" y="886.3">40</text>
<text x="1137.0" y="886.3">60</text>
<text x="1375.3" y="886.3">80</text>
</g>
<text x="277.6" y="880.4" font-size="20" fill="#1c1c1c" stroke="#1c1c1c" stroke-width="0.3" textLength="33.4" lengthAdjust="spacingAndGlyphs">LTV</text>
<g fill="none" stroke="#4a4a4a" stroke-width="1.25" stroke-dasharray="3 2.5">
<circle cx="39.9" cy="925.6" r="14.6"/><circle cx="69.9" cy="925.6" r="8.8"/><circle cx="88" cy="925.6" r="4.3"/>
</g>
<g fill="#1c1c1c" font-size="20" stroke="#1c1c1c" stroke-width="0.3">
<text x="25.2" y="970.8" textLength="239.7" lengthAdjust="spacingAndGlyphs">marker’s size ~ app score</text>
<text x="25.2" y="999.6" textLength="202.5" lengthAdjust="spacingAndGlyphs">(revenue+downloads)</text>
<text x="25.2" y="1028.2" textLength="173" lengthAdjust="spacingAndGlyphs">over last 3 months</text>
</g>
<text x="373.8" y="936.5" font-size="23.8" font-weight="bold" fill="#16d016" stroke="#16d016" stroke-width="0.5" textLength="84" lengthAdjust="spacingAndGlyphs">Android</text>
<circle cx="388.4" cy="971" r="15.2" fill="#3fcb00" fill-opacity="0.6"/>
<text x="417.8" y="979.4" font-size="20" fill="#1c1c1c" stroke="#1c1c1c" stroke-width="0.3" textLength="90" lengthAdjust="spacingAndGlyphs">App’s LTV</text>
<rect x="373.4" y="1003" width="26.8" height="27" fill="#30ad4c" fill-opacity="0.28"/>
<text x="416.3" y="1024.7" font-size="20" fill="#1c1c1c" stroke="#1c1c1c" stroke-width="0.3" textLength="279.7" lengthAdjust="spacingAndGlyphs">25-75 percentiles of apps’ LTV</text>
<text x="781" y="936.5" font-size="23.8" font-weight="bold" fill="#1a73f5" stroke="#1a73f5" stroke-width="0.5" textLength="37.4" lengthAdjust="spacingAndGlyphs">iOS</text>
<circle cx="795.9" cy="971" r="15.2" fill="#3a72e8" fill-opacity="0.6"/>
<text x="825" y="979.4" font-size="20" fill="#1c1c1c" stroke="#1c1c1c" stroke-width="0.3" textLength="90" lengthAdjust="spacingAndGlyphs">App’s LTV</text>
<rect x="781.1" y="1003" width="26.6" height="27" fill="#3565dc" fill-opacity="0.5"/>
<text x="823.5" y="1024.7" font-size="20" fill="#1c1c1c" stroke="#1c1c1c" stroke-width="0.3" textLength="279.7" lengthAdjust="spacingAndGlyphs">25-75 percentiles of apps’ LTV</text>
</svg>
</body></html>
